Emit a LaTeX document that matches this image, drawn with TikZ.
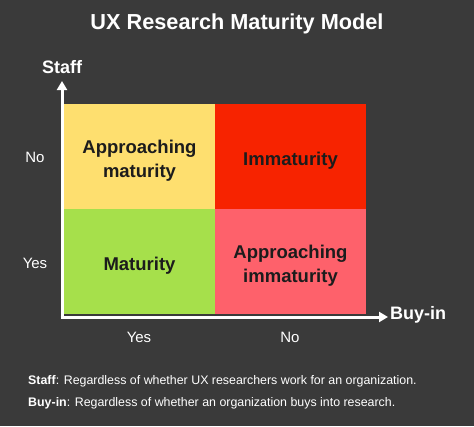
\documentclass[tikz,border=0pt]{standalone}
\usepackage{fontspec}
\setmainfont{Liberation Sans}
\usetikzlibrary{arrows.meta,positioning}

\definecolor{bgdark}{HTML}{3A3A3A}
\definecolor{cellyellow}{HTML}{FEDF6F}
\definecolor{cellred}{HTML}{F72300}
\definecolor{cellgreen}{HTML}{A6E04B}
\definecolor{cellpink}{HTML}{FE616B}
\definecolor{celltext}{HTML}{1C1C1C}

\begin{document}
\begin{tikzpicture}[
  x=1pt, y=-1pt,
  cell/.style={minimum width=151pt, minimum height=105pt, inner sep=0pt, outer sep=0pt},
  celllabel/.style={align=center, text=celltext, font=\fontsize{18.5}{24}\selectfont\bfseries},
  axis/.style={white, line width=3pt, -{Triangle[length=9pt,width=10pt]}},
  axislabel/.style={text=white, font=\fontsize{18}{20}\selectfont\bfseries},
  tick/.style={text=white, font=\fontsize{15}{17}\selectfont},
  note/.style={text=white, anchor=west, inner sep=0pt, font=\fontsize{12.4}{14}\selectfont}
]
% background
\fill[bgdark] (0,0) rectangle (474,426);
\useasboundingbox (0,0) rectangle (474,426);

\node[text=white, font=\fontsize{21.7}{24}\selectfont\bfseries] (title) at (237,24) {UX Research Maturity Model};

% Quadrants
\node[cell, fill=cellyellow, anchor=north west] (q1) at (64,104) {};
\node[cell, fill=cellred, right=0pt of q1] (q2) {};
\node[cell, fill=cellgreen, below=0pt of q1] (q3) {};
\node[cell, fill=cellpink, below=0pt of q2] (q4) {};

\node[celllabel] (l1) at ([yshift=-4pt]q1.center) {Approaching\\maturity};
\node[celllabel] (l2) at ([yshift=-4pt]q2.center) {Immaturity};
\node[celllabel] (l3) at ([yshift=-4pt]q3.center) {Maturity};
\node[celllabel] (l4) at ([yshift=-4pt]q4.center) {Approaching\\immaturity};

% Axes
\coordinate (origin) at (62,317);
\coordinate (ytip) at (62,81);
\coordinate (xtip) at (388,317);
\draw[axis] ([yshift=-1.5pt]origin) -- (ytip);
\draw[axis] ([xshift=-1.5pt]origin) -- (xtip);

\node[axislabel] (staff) at (62,67) {Staff};
\node[axislabel] (buyin) at (418,315) {Buy-in};

% Tick labels
\node[tick] (sno) at (35,157) {No};
\node[tick] (syes) at (35,263) {Yes};
\node[tick] (byes) at (139,337) {Yes};
\node[tick] (bno) at (290,337) {No};

% Notes
\node[note] (note1) at (28,381) {\textbf{Staff}: Regardless of whether UX researchers work for an organization.};
\node[note] (note2) at (28,403) {\textbf{Buy-in}: Regardless of whether an organization buys into research.};
\end{tikzpicture}
\end{document}
